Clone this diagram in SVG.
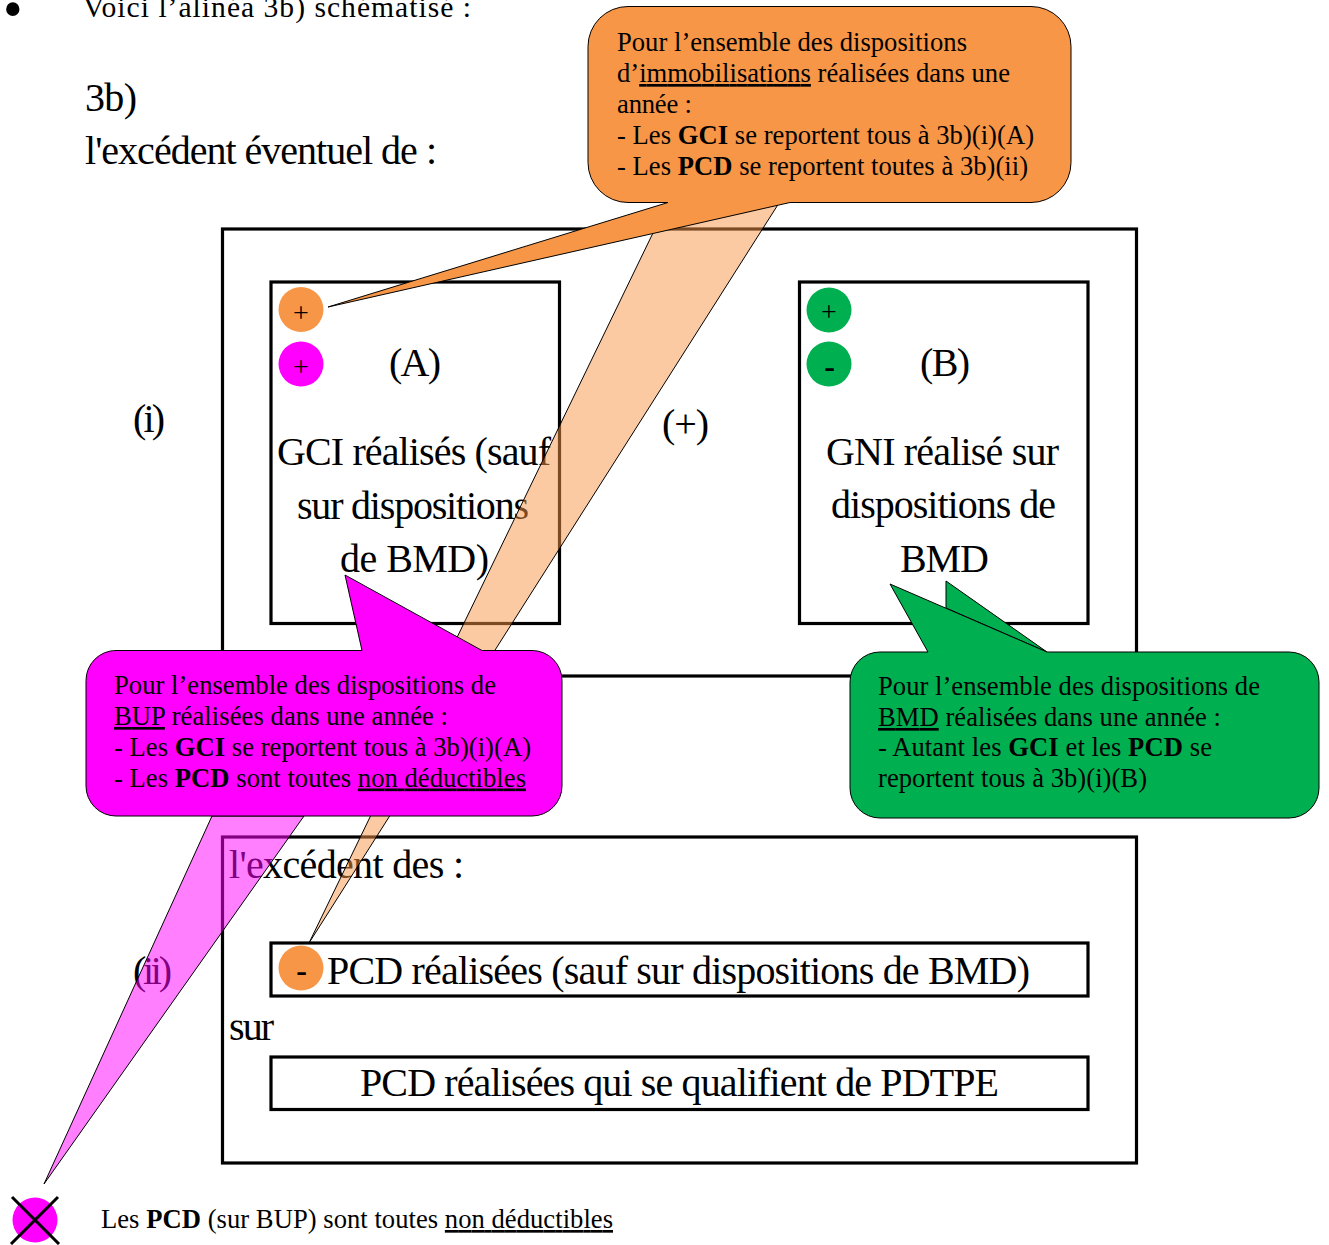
<svg xmlns="http://www.w3.org/2000/svg" width="1329" height="1245" viewBox="0 0 1329 1245">
<style>
text{font-family:"Liberation Serif","Times New Roman",serif;fill:#000}
.b{font-size:40px}
.c{font-size:26.6px}
.s{font-size:28px;text-anchor:middle}
.d{font-size:32px;font-weight:bold;text-anchor:middle}
.box{fill:none;stroke:#000;stroke-width:3.2}
.edge{stroke:#000;stroke-width:1;stroke-linejoin:miter}
.o{fill:#F79646}.m{fill:#FF00FF}.g{fill:#00B050}
.u{text-decoration:underline}
tspan.h{font-weight:bold}
</style>
<rect width="1329" height="1245" fill="#fff"/>
<g id="intro">
<text x="3" y="28" font-size="56">•</text>
<text x="83" y="17" font-size="29.6" textLength="388">Voici l’alinéa 3b) schématisé :</text>
<text class="b" x="85" y="111" textLength="52">3b)</text>
<text class="b" x="85" y="164" textLength="352">l'excédent éventuel de :</text>
</g>
<g id="group-i">
<rect class="box" x="222.500" y="229" width="914" height="447"/>
<text class="b" x="133" y="432" textLength="32">(i)</text>
<text class="b" x="662" y="437" textLength="47">(+)</text>
</g>
<g id="node-a">
<rect class="box" x="271" y="282" width="288.500" height="341.500"/>
<text class="b" x="389" y="376" textLength="52">(A)</text>
<text class="b" x="277" y="465" textLength="274">GCI réalisés (sauf</text>
<text class="b" x="297" y="519" textLength="232">sur dispositions</text>
<text class="b" x="340" y="572" textLength="149">de BMD)</text>
<circle class="o" cx="301" cy="309.500" r="22.500"/><text class="s" x="301" y="322">+</text>
<circle class="m" cx="301" cy="364" r="22.500"/><text class="s" x="301" y="376">+</text>
</g>
<g id="node-b">
<rect class="box" x="799.500" y="282" width="288.500" height="341.500"/>
<text class="b" x="920" y="376" textLength="50">(B)</text>
<text class="b" x="826" y="465" textLength="233">GNI réalisé sur</text>
<text class="b" x="831" y="518" textLength="225">dispositions de</text>
<text class="b" x="900" y="572" textLength="89">BMD</text>
<circle class="g" cx="829" cy="310" r="22.500"/><text class="s" x="829" y="321">+</text>
<circle class="g" cx="829" cy="364" r="22.500"/><text class="d" x="829.500" y="377">-</text>
</g>
<g id="group-ii">
<rect class="box" x="222.500" y="837" width="914" height="326"/>
<text class="b" x="229" y="878" textLength="235">l'excédent des :</text>
<text class="b" x="133" y="984" textLength="39">(ii)</text>
<text class="b" x="229" y="1040" textLength="45">sur</text>
</g>
<g id="node-pcd">
<rect class="box" x="271" y="943" width="817" height="53"/>
<text class="b" x="327" y="984" textLength="703">PCD réalisées (sauf sur dispositions de BMD)</text>
<circle class="o" cx="301" cy="968" r="22.500"/><text class="d" x="301.500" y="981">-</text>
</g>
<g id="node-pdtpe">
<rect class="box" x="271" y="1057" width="817" height="52.500"/>
<text class="b" x="360" y="1096" textLength="639">PCD réalisées qui se qualifient de PDTPE</text>
</g>
<g id="connectors">
<polygon class="o edge" points="668,202 779,203 309,943" style="fill-opacity:.5"/>
<polygon class="m edge" points="212,816 304,816 44,1184" style="fill-opacity:.5"/>
</g>
<g id="callout-orange">
<path class="o edge" d="M628,6.500H1031a40,40 0 0 1 40,40V162.500a40,40 0 0 1 -40,40H790L328,307L668,202.500H628a40,40 0 0 1 -40,-40V46.500a40,40 0 0 1 40,-40Z"/>
<text class="c" x="617" y="51" textLength="350">Pour l’ensemble des dispositions</text>
<text class="c" x="617" y="82" textLength="393">d’<tspan class="u">immobilisations</tspan> réalisées dans une</text>
<text class="c" x="617" y="113" textLength="75">année :</text>
<text class="c" x="617" y="144" textLength="417">- Les <tspan class="h">GCI</tspan> se reportent tous à 3b)(i)(A)</text>
<text class="c" x="617" y="175" textLength="411">- Les <tspan class="h">PCD</tspan> se reportent toutes à 3b)(ii)</text>
</g>
<g id="callout-magenta">
<path class="m edge" d="M116,650.500H362L345,575L482,650.500H532a30,30 0 0 1 30,30V786a30,30 0 0 1 -30,30H116a30,30 0 0 1 -30,-30V680.500a30,30 0 0 1 30,-30Z"/>
<text class="c" x="114" y="694" textLength="382">Pour l’ensemble des dispositions de</text>
<text class="c" x="114" y="725" textLength="334"><tspan class="u">BUP</tspan> réalisées dans une année :</text>
<text class="c" x="114" y="755.500" textLength="417">- Les <tspan class="h">GCI</tspan> se reportent tous à 3b)(i)(A)</text>
<text class="c" x="114" y="786.500" textLength="412">- Les <tspan class="h">PCD</tspan> sont toutes <tspan class="u">non déductibles</tspan></text>
</g>
<g id="callout-green">
<polygon class="g edge" points="946,581 946,608 1047,652"/>
<path class="g edge" d="M880,652H928L890,584L1047,652H1289a30,30 0 0 1 30,30V788a30,30 0 0 1 -30,30H880a30,30 0 0 1 -30,-30V682a30,30 0 0 1 30,-30Z"/>
<text class="c" x="878" y="695" textLength="382">Pour l’ensemble des dispositions de</text>
<text class="c" x="878" y="726" textLength="343"><tspan class="u">BMD</tspan> réalisées dans une année :</text>
<text class="c" x="878" y="756" textLength="334">- Autant les <tspan class="h">GCI</tspan> et les <tspan class="h">PCD</tspan> se</text>
<text class="c" x="878" y="787" textLength="269">reportent tous à 3b)(i)(B)</text>
</g>
<g id="legend">
<circle class="m" cx="35" cy="1220" r="22.500"/>
<path d="M12,1197L59,1244M58,1197L11,1244" stroke="#000" stroke-width="3" fill="none"/>
<text class="c" x="101" y="1228" textLength="512">Les <tspan class="h">PCD</tspan> (sur BUP) sont toutes <tspan class="u">non déductibles</tspan></text>
</g>
</svg>
